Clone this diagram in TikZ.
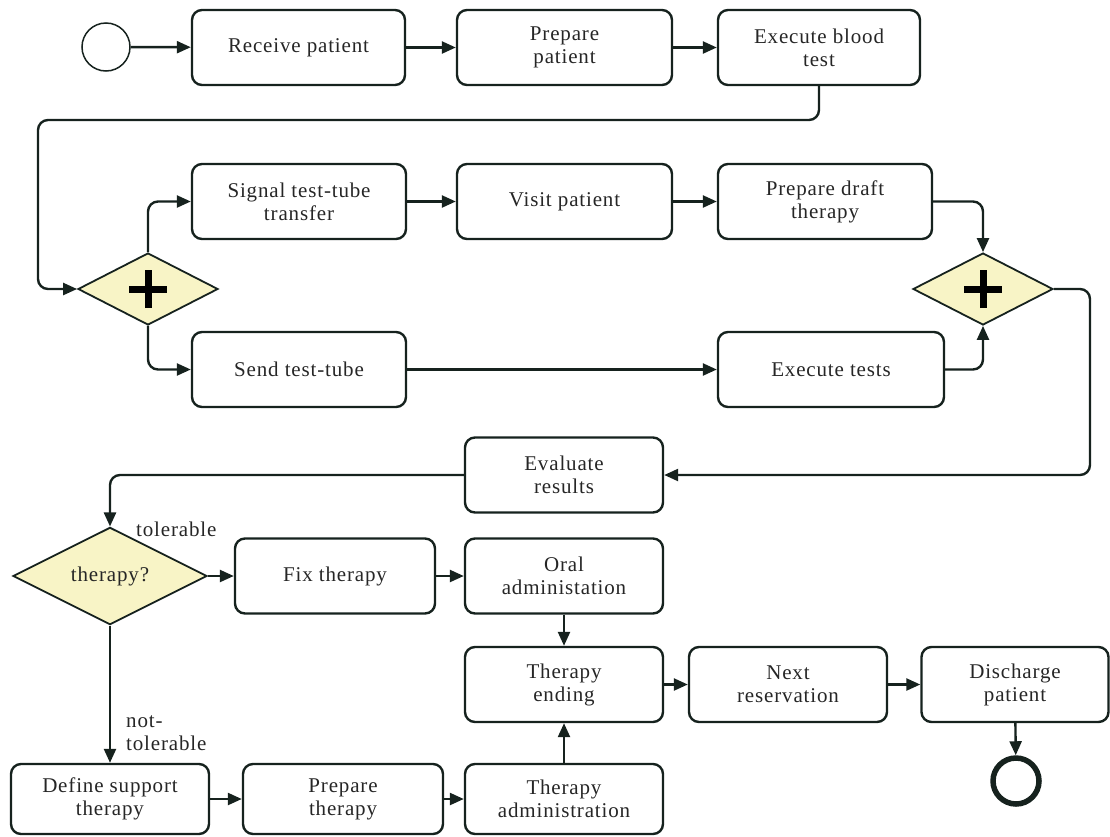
\documentclass[tikz,border=0pt]{standalone}
\usepackage{fontspec}
\setmainfont{Liberation Serif}[LetterSpace=4]
\usetikzlibrary{arrows.meta,shapes.geometric}
\definecolor{ink}{RGB}{22,34,30}
\definecolor{gatefill}{RGB}{248,244,198}

\begin{document}
\begin{tikzpicture}[x=1pt,y=-1pt,line width=2.4pt,
    flow/.style={draw=ink,line width=2.4pt,rounded corners=10pt,-{Triangle[length=14pt,width=12pt]}},
    gate/.style={diamond,draw=ink,fill=gatefill,line width=1.8pt,inner sep=0pt,
      minimum width=140pt,minimum height=72pt}]

      \useasboundingbox (0,0) rectangle (1110,836);

      % tasks
      \begin{scope}[every node/.style={rectangle,draw=ink,rounded corners=10pt,
          minimum width=198pt,minimum height=75pt,inner sep=0pt,align=center,
          text=black!85,font=\fontsize{21}{23}\selectfont}]
        \node (recv)   at (298.5,47.5) [minimum width=213pt] {Receive patient};
        \node (prep)   at (564.5,47.5) [minimum width=215pt] {Prepare\\patient};
        \node (blood)  at (819,47.5)   [minimum width=202pt] {Execute blood\\test};
        \node (signal) at (299,201.5)  [minimum width=214pt] {Signal test-tube\\transfer};
        \node (visit)  at (564.5,201.5)[minimum width=215pt] {Visit patient};
        \node (draft)  at (825,201.5)  [minimum width=214pt] {Prepare draft\\therapy};
        \node (send)   at (299,369.5)  [minimum width=214pt] {Send test-tube};
        \node (tests)  at (831,369.5)  [minimum width=226pt] {Execute tests};
        \node (eval)   at (564,475)    {Evaluate\\results};
        \node (fix)    at (335,576)    [minimum width=200pt] {Fix therapy};
        \node (oral)   at (564,576)    {Oral\\administation};
        \node (ending) at (564,684.5)  {Therapy\\ending};
        \node (next)   at (788,684.5)  {Next\\reservation};
        \node (disch)  at (1015,684.5) [minimum width=187pt] {Discharge\\patient};
        \node (define) at (110,799)    [minimum height=70pt] {Define support\\therapy};
        \node (preptx) at (343,799)    [minimum width=200pt,minimum height=70pt] {Prepare\\therapy};
        \node (admin)  at (564,799)    [minimum height=70pt] {Therapy\\administration};
      \end{scope}

      % events and gateways
      \node (start) at (106,47) [circle,draw=ink,line width=1.5pt,minimum size=48pt] {};
      \node (end)   at (1016,781) [circle,draw=ink,line width=5.5pt,minimum size=46pt] {};
      \node (split) at (148,289) [gate] {};
      \node (join)  at (983,289) [gate] {};
      \node (decision) at (110,576) [gate,minimum width=194pt,minimum height=73pt,
        text=black!85,font=\fontsize{21}{23}\selectfont] {therapy?};
      \foreach \g in {split,join}{
        \draw[line width=7pt] ([xshift=-19pt]\g.center) -- ([xshift=19pt]\g.center);
        \draw[line width=7pt] ([yshift=-19pt]\g.center) -- ([yshift=19pt]\g.center);
      }

      % labels
      \begin{scope}[every node/.style={text=black!85,font=\fontsize{21}{23}\selectfont,
          inner sep=0pt,anchor=west,align=left}]
        \node (tol)    at (135,529) {tolerable};
        \node (nottol) at (125,733) {not-\\tolerable};
      \end{scope}

      % sequence flows
      \coordinate (topbend)   at (38,120);
      \coordinate (rightbend) at (1090,475);
      \begin{scope}[every edge/.style={flow}]
        \path (start) edge (recv);
        \path (recv)  edge (prep);
        \path (prep)  edge (blood);
        \path (signal) edge (visit);
        \path (visit)  edge (draft);
        \path (send)   edge (tests);
        \path (decision) edge (fix);
        \path (decision) edge (define);
        \path (fix)    edge (oral);
        \path (oral)   edge (ending);
        \path (admin)  edge (ending);
        \path (ending) edge (next);
        \path (next)   edge (disch);
        \path (disch)  edge (end);
        \path (define) edge (preptx);
        \path (preptx) edge (admin);
      \end{scope}
      \draw[flow] (blood.south) |- (topbend) |- (split.west);
      \draw[flow] (split.north) |- (signal.west);
      \draw[flow] (split.south) |- (send.west);
      \draw[flow] (draft.east) -| (join.north);
      \draw[flow] (tests.east) -| (join.south);
      \draw[flow] (join.east) -| (rightbend) -- (eval.east);
      \draw[flow] (eval.west) -| (decision.north);

    \end{tikzpicture}
\end{document}
